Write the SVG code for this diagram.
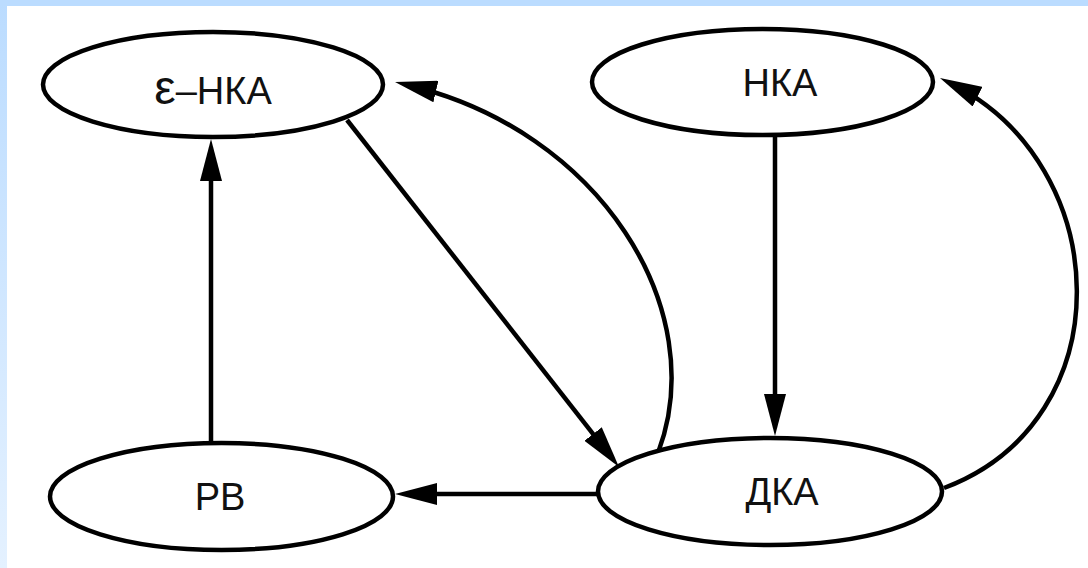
<svg xmlns="http://www.w3.org/2000/svg" width="1088" height="568" viewBox="0 0 1088 568">
  <style>
    .node ellipse { fill: #ffffff; stroke: #000000; stroke-width: 4.5; }
    .node text { font-family: "Liberation Sans", Arial, sans-serif; font-size: 38px; fill: #111111; text-anchor: middle; }
    .edge { fill: none; stroke: #000000; stroke-width: 4.5; marker-end: url(#arrow); }
  </style>
  <defs>
    <linearGradient id="leftband" x1="0" y1="0" x2="0" y2="1">
      <stop offset="0" stop-color="#BBDCFF"/>
      <stop offset="1" stop-color="#E4F1FF"/>
    </linearGradient>
    <marker id="arrow" markerUnits="userSpaceOnUse" viewBox="0 0 42 22" markerWidth="42" markerHeight="22" refX="30" refY="11" orient="auto">
      <path d="M0,0 L42,11 L0,22 z" fill="#000000"/>
    </marker>
  </defs>

  <rect x="0" y="0" width="1088" height="568" fill="#ffffff"/>
  <rect x="0" y="0" width="7" height="568" fill="url(#leftband)"/>
  <rect x="0" y="0" width="1088" height="6" fill="#BBDCFF"/>

  <g id="connectors">
    <path id="e-rv-enka" class="edge" d="M211,443 L211,151"/>
    <path id="e-enka-dka" class="edge" d="M347,120 L611.6,457.6"/>
    <path id="e-dka-enka" class="edge" d="M658,453 C712,310 600,130 406.7,84.7"/>
    <path id="e-nka-dka" class="edge" d="M775,135 L775,424"/>
    <path id="e-dka-rv" class="edge" d="M598,494 L407,494"/>
    <path id="e-dka-nka" class="edge" d="M944,488 C1125,420 1115,165 950.7,83.3"/>
  </g>

  <g id="node-enka" class="node">
    <ellipse cx="213" cy="84.5" rx="170" ry="52.5"/>
    <text x="213" y="104"><tspan font-size="48">ε</tspan>–НКА</text>
  </g>
  <g id="node-nka" class="node">
    <ellipse cx="762.5" cy="82" rx="170.5" ry="53"/>
    <text x="780" y="96">НКА</text>
  </g>
  <g id="node-rv" class="node">
    <ellipse cx="221.5" cy="496.5" rx="171.5" ry="53.5"/>
    <text x="220" y="510">РВ</text>
  </g>
  <g id="node-dka" class="node">
    <ellipse cx="770" cy="491.5" rx="172" ry="53.5"/>
    <text x="782" y="505">ДКА</text>
  </g>
</svg>
